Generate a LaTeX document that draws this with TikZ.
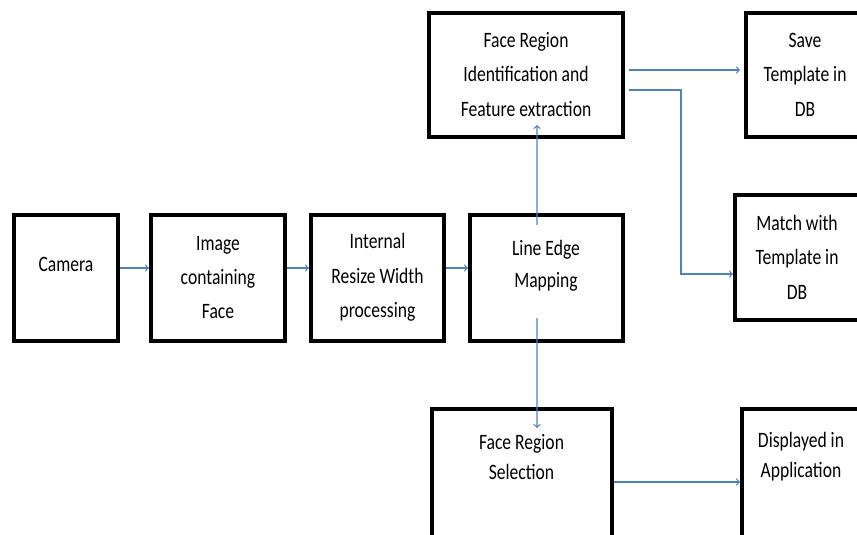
\documentclass[tikz,border=0pt]{standalone}
\usepackage{fontspec}
\setmainfont{Carlito}
\definecolor{arrowblue}{RGB}{79,129,189}

\begin{document}
\begin{tikzpicture}[
  blockbox/.style={draw, line width=2.6pt, inner sep=0pt},
  blocktext/.style={align=center, yscale=1.25, transform shape, font=\fontsize{12.5}{19.6}\selectfont},
  midtext/.style={blocktext, font=\fontsize{12.5}{18.3}\selectfont},
  tighttext/.style={blocktext, font=\fontsize{12.5}{17.1}\selectfont},
  flow/.style={->, draw=arrowblue, line width=0.9pt}
]

\useasboundingbox (0, 0) rectangle (21.425, -13.375);
\clip (0, 0) rectangle (21.425, -13.375);

\node[blockbox, minimum width=2.61cm, minimum height=3.16cm] (cam) at (1.65, -6.95) {};
\node[blockbox, minimum width=3.36cm, minimum height=3.16cm] (img) at (5.45, -6.95) {};
\node[blockbox, minimum width=3.335cm, minimum height=3.16cm] (res) at (9.4375, -6.95) {};
\node[blockbox, minimum width=3.835cm, minimum height=3.16cm] (lem) at (13.6625, -6.95) {};
\node[blockbox, minimum width=4.86cm, minimum height=3.11cm] (fri) at (13.15, -1.875) {};
\node[blockbox, minimum width=3.31cm, minimum height=3.11cm] (sav) at (20.3, -1.875) {};
\node[blockbox, minimum width=3.335cm, minimum height=3.135cm] (mat) at (20.0375, -6.4375) {};
\node[blockbox, minimum width=4.51cm, minimum height=3.235cm] (frs) at (13.05, -11.8375) {};
\node[blockbox, minimum width=3.31cm, minimum height=3.235cm] (dsp) at (20.2, -11.8375) {};

\node[blocktext] (camtext) at (1.65, -6.6) {Camera};
\node[blocktext] (imgtext) at (5.45, -6.9375) {Image\\containing\\Face};
\node[blocktext] (restext) at (9.4375, -6.9375) {Internal\\Resize Width\\processing};
\node[midtext] (lemtext) at (13.65, -6.65) {Line Edge\\Mapping};
\node[blocktext] (fritext) at (13.15, -1.8625) {Face Region\\Identification and\\Feature extraction};
\node[blocktext] (savtext) at (20.125, -1.8625) {Save\\Template in\\DB};
\node[blocktext] (mattext) at (19.925, -6.425) {Match with\\Template in\\DB};
\node[tighttext] (frstext) at (13.0375, -11.425) {Face Region\\Selection};
\node[tighttext] (dsptext) at (20.025, -11.425) {Displayed in\\Application};

\draw[flow] ([yshift=0.25cm]cam.east) -- ([yshift=0.25cm]img.west);
\draw[flow] ([yshift=0.25cm]img.east) -- ([yshift=0.25cm]res.west);
\draw[flow] ([yshift=0.25cm]res.east) -- ([yshift=0.25cm]lem.west);

\draw[flow] ([shift={(-0.2375,-0.3)}]lem.north) -- ([shift={(0.275,0.35)}]fri.south);
\draw[flow] ([shift={(-0.2375,0.625)}]lem.south) -- ([shift={(0.375,-0.525)}]frs.north);

\draw[flow] ([shift={(0.1,0.125)}]fri.east) -- ([shift={(-0.1,0.125)}]sav.west);
\coordinate (split) at (17.025, -2.25);
\draw[flow] ([shift={(0.1,-0.375)}]fri.east) -- (split) |- ([yshift=-0.4125cm]mat.west);

\draw[flow] ([yshift=-0.2125cm]frs.east) -- ([yshift=-0.2125cm]dsp.west);

\end{tikzpicture}
\end{document}
